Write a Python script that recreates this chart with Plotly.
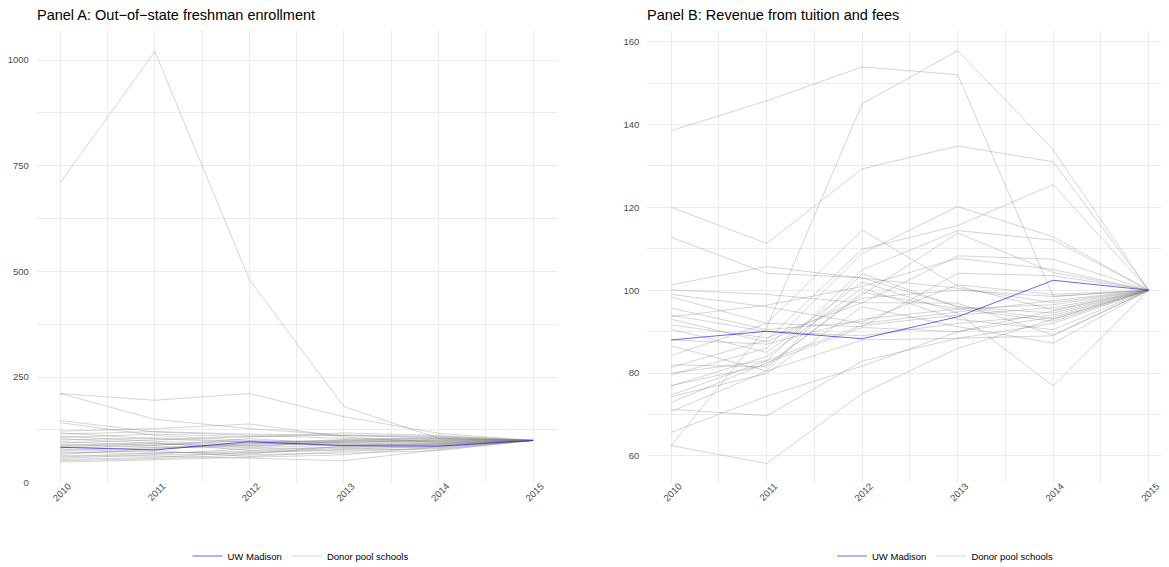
import plotly.graph_objects as go

years = [2010, 2011, 2012, 2013, 2014, 2015]

# Panel A: out-of-state freshman enrollment (index, 2015 = 100)
uw_enroll = [83.7, 77.4, 97.0, 87.6, 86.5, 100]
donor_enroll = [
    [710, 1020, 480, 180, 105, 100],
    [211, 195, 211, 156, 117, 100],
    [211, 150, 128, 112, 105, 100],
    [147, 120, 112, 105, 104, 100],
    [142, 112, 100, 95, 101, 100],
    [122, 128, 139, 108, 95, 100],
    [115, 121, 115, 112, 108, 100],
    [110, 98, 90, 101, 103, 100],
    [107, 115, 108, 118, 112, 100],
    [104, 93, 87, 96, 99, 100],
    [101, 106, 97, 99, 97, 100],
    [97, 88, 104, 92, 94, 100],
    [94, 101, 109, 113, 110, 100],
    [91, 84, 82, 90, 92, 100],
    [88, 95, 76, 85, 89, 100],
    [85, 79, 92, 98, 101, 100],
    [82, 89, 99, 88, 93, 100],
    [79, 72, 70, 79, 86, 100],
    [76, 84, 88, 94, 96, 100],
    [73, 68, 80, 83, 88, 100],
    [70, 76, 62, 74, 82, 100],
    [67, 80, 94, 102, 99, 100],
    [64, 63, 58, 52, 78, 100],
    [61, 70, 74, 81, 84, 100],
    [58, 66, 68, 87, 91, 100],
    [55, 60, 72, 77, 80, 100],
    [52, 57, 66, 70, 76, 100],
    [48.6, 55, 60, 66, 85, 100],
    [118, 104, 95, 89, 90, 100],
    [86, 92, 84, 99, 107, 100],
]

# Panel B: revenue from tuition and fees (index, 2015 = 100)
uw_revenue = [88.0, 90.1, 88.3, 93.6, 102.4, 100]
donor_revenue = [
    [138.5, 145.7, 153.9, 152.0, 98.5, 100],
    [62.5, 91.0, 145.0, 157.8, 133.9, 100],
    [120.0, 111.3, 129.3, 134.8, 131.0, 100],
    [112.8, 104.1, 103.0, 96.0, 94.5, 100],
    [101.3, 105.7, 102.9, 100.5, 97.0, 100],
    [81.4, 88.0, 109.9, 115.6, 125.5, 100],
    [84.2, 92.0, 114.5, 101.0, 95.3, 100],
    [79.6, 86.0, 108.9, 120.2, 112.9, 100],
    [74.7, 83.0, 104.9, 114.4, 112.1, 100],
    [77.0, 82.0, 98.9, 113.8, 104.3, 100],
    [100.1, 99.0, 96.9, 108.3, 107.5, 100],
    [93.6, 96.4, 100.9, 107.7, 105.0, 100],
    [98.4, 92.0, 91.2, 104.1, 103.5, 100],
    [95.7, 90.5, 92.4, 101.3, 99.0, 100],
    [93.0, 87.5, 98.1, 100.0, 98.5, 100],
    [91.6, 88.5, 97.0, 96.9, 89.2, 100],
    [90.6, 85.0, 102.0, 94.5, 76.9, 100],
    [86.6, 80.5, 104.0, 96.0, 93.1, 100],
    [82.0, 81.5, 99.5, 95.5, 92.5, 100],
    [76.9, 84.0, 100.5, 93.0, 90.5, 100],
    [74.3, 79.9, 96.0, 91.2, 87.2, 100],
    [72.9, 82.5, 91.0, 90.0, 93.5, 100],
    [70.7, 80.5, 88.0, 88.4, 92.0, 100],
    [65.7, 74.4, 81.7, 90.0, 95.0, 100],
    [71.3, 69.7, 82.9, 88.4, 89.0, 100],
    [62.5, 58.2, 75.1, 86.0, 93.0, 100],
    [88.0, 87.0, 93.0, 95.5, 96.5, 100],
    [80.0, 83.0, 91.5, 94.0, 95.8, 100],
    [99.0, 96.0, 92.0, 94.8, 97.5, 100],
    [94.0, 90.0, 89.0, 92.0, 94.0, 100],
]

title_a = "Panel A: Out\u2212of\u2212state freshman enrollment"
title_b = "Panel B: Revenue from tuition and fees"

GREY = "rgba(128,128,128,0.34)"
BLUE = "rgba(0,0,255,0.6)"
FONT = "Liberation Sans, Arial, Helvetica, sans-serif"
W, H = 1169, 567
OFF = 8  # page body margin offset


def px_x(p):
    return (p - OFF) / W


def px_y(p):
    return 1 - (p - OFF) / H


fig = go.Figure()


def add_panel(donors, uw, xa, ya, leg):
    for i, s in enumerate(donors):
        fig.add_trace(go.Scatter(
            x=years, y=s, mode="lines", xaxis=xa, yaxis=ya,
            line=dict(color=GREY, width=1),
            name="Donor pool schools", legendgroup="donor" + leg,
            showlegend=(i == 0), legend=leg, legendrank=2, hoverinfo="skip"))
    fig.add_trace(go.Scatter(
        x=years, y=uw, mode="lines", xaxis=xa, yaxis=ya,
        line=dict(color=BLUE, width=1),
        name="UW Madison", legendgroup="uw" + leg,
        showlegend=True, legend=leg, legendrank=1, hoverinfo="skip"))


add_panel(donor_enroll, uw_enroll, "x", "y", "legend")
add_panel(donor_revenue, uw_revenue, "x2", "y2", "legend2")

ydom = [px_y(483), px_y(30)]
grid_major = "#EBEBEB"
tickfont = dict(family=FONT, size=9.5, color="#4D4D4D")

xcommon = dict(
    tickmode="array", tickvals=years, ticktext=[str(y) for y in years],
    tickangle=-45, showgrid=True, gridcolor=grid_major, gridwidth=1,
    zeroline=False, showline=False, ticks="", tickfont=tickfont,
    ticklabelshift=8, ticklabelstandoff=-5,
    minor=dict(dtick=0.5, tick0=2009.5, showgrid=True, gridcolor=grid_major, gridwidth=0.6),
)
ycommon = dict(
    showgrid=True, gridcolor=grid_major, gridwidth=1, zeroline=False,
    showline=False, ticks="outside", ticklen=5, tickcolor="rgba(0,0,0,0)",
    tickfont=tickfont,
)

legend_common = dict(orientation="h", xanchor="center", yanchor="middle", y=px_y(556),
                     font=dict(family=FONT, size=9.5, color="black"), itemwidth=30,
                     traceorder="normal", bgcolor="rgba(0,0,0,0)")

fig.update_layout(
    width=W, height=H,
    margin=dict(l=0, r=0, t=0, b=0, autoexpand=False),
    paper_bgcolor="white", plot_bgcolor="white",
    font=dict(family=FONT, color="black"),
    xaxis=dict(domain=[px_x(36.7), px_x(556.7)], range=[2009.75, 2015.25], anchor="y", **xcommon),
    yaxis=dict(domain=ydom, range=[-0.7, 1071], anchor="x", tickvals=[0, 250, 500, 750, 1000],
               minor=dict(dtick=125, tick0=0, showgrid=True, gridcolor=grid_major, gridwidth=0.6),
               **ycommon),
    xaxis2=dict(domain=[px_x(647.3), px_x(1172.6)], range=[2009.75, 2015.25], anchor="y2", **xcommon),
    yaxis2=dict(domain=ydom, range=[53.48, 162.8], anchor="x2", tickvals=[60, 80, 100, 120, 140, 160],
                minor=dict(dtick=10, tick0=50, showgrid=True, gridcolor=grid_major, gridwidth=0.6),
                **ycommon),
    legend=dict(x=px_x(300.5), **legend_common),
    legend2=dict(x=px_x(945), **legend_common),
    annotations=[
        dict(text=title_a, xref="paper", yref="paper", x=px_x(34.7), y=px_y(14.8),
             xanchor="left", yanchor="middle", showarrow=False,
             font=dict(family=FONT, size=14.5, color="black")),
        dict(text=title_b, xref="paper", yref="paper", x=px_x(645.3), y=px_y(14.8),
             xanchor="left", yanchor="middle", showarrow=False,
             font=dict(family=FONT, size=14.5, color="black")),
    ],
)

fig.write_html("out.html")
